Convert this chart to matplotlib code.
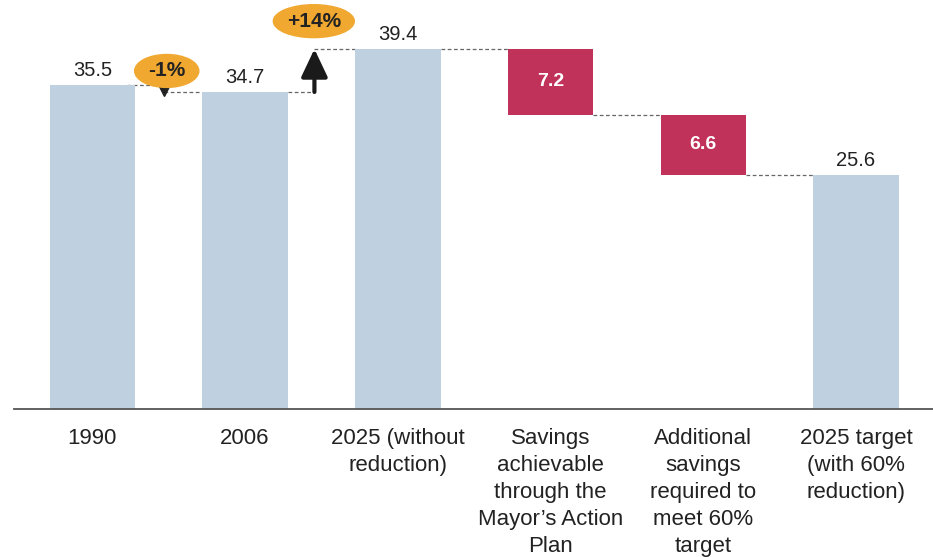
import matplotlib
matplotlib.use("Agg")
import matplotlib.pyplot as plt
from matplotlib.patches import Ellipse

plt.rcParams["font.family"] = ["Liberation Sans", "DejaVu Sans"]

# Emissions waterfall (MtCO2)
categories = [
    "1990",
    "2006",
    "2025 (without\nreduction)",
    "Savings\nachievable\nthrough the\nMayor\u2019s Action\nPlan",
    "Additional\nsavings\nrequired to\nmeet 60%\ntarget",
    "2025 target\n(with 60%\nreduction)",
]
totals = [35.5, 34.7, 39.4, None, None, 25.6]
savings = [None, None, None, 7.2, 6.6, None]
change_labels = ["-1%", "+14%"]

BLUE = "#bfd0e0"
RED = "#c0325a"
ORANGE = "#f0a830"
TEXT = "#222222"
DASH = "#666666"

fig = plt.figure(figsize=(9.33, 5.57), dpi=100)
ax = fig.add_axes([14 / 933, 148 / 557, 1 - 14 / 933, 402 / 557])

width = 0.56
half = width / 2
x = list(range(len(categories)))

# Totals (blue) and savings steps (red)
level = None
steps = []
for i in x:
    if totals[i] is not None:
        ax.bar(i, totals[i], width=width, color=BLUE, zorder=2)
        ax.annotate(f"{totals[i]:.1f}", (i, totals[i]), xytext=(0, 6.5),
                    textcoords="offset points", ha="center", va="baseline",
                    fontsize=14.5, color=TEXT)
        level = totals[i]
    else:
        top = level
        bottom = level - savings[i]
        ax.bar(i, savings[i], bottom=bottom, width=width, color=RED, zorder=2)
        ax.text(i, (top + bottom) / 2, f"{savings[i]:.1f}", ha="center",
                va="center", fontsize=14, fontweight="bold", color="white",
                zorder=3)
        level = bottom
    steps.append(level)

# Positions of the change arrows between the first three totals
arrow_x = [0.468, 1.454]

def dashed(x0, x1, y):
    ax.plot([x0, x1], [y, y], ls=(0, (3, 2)), lw=0.9, color=DASH, zorder=1)

# Connectors 1990 -> 2006 (via small drop arrow)
dashed(0 + half - 0.05, arrow_x[0], totals[0])
dashed(arrow_x[0], 1 - half, totals[1])
# 2006 -> 2025 (via rise arrow)
dashed(1 + half, arrow_x[1], totals[1])
dashed(arrow_x[1], 2 - half, totals[2])
# Remaining steps
for i in range(2, len(x) - 1):
    dashed(i + half, i + 1 - half, steps[i])

# Small drop arrow head
ax.plot(arrow_x[0], (totals[0] + totals[1]) / 2 - 0.2, marker="v",
        markersize=8, color=TEXT, zorder=4)
# Rise arrow
ax.annotate("", xy=(arrow_x[1], totals[2]), xytext=(arrow_x[1], totals[1]),
            arrowprops=dict(arrowstyle="-|>,head_length=0.95,head_width=0.45",
                            lw=3, color="#1a1a1a", shrinkA=0, shrinkB=0,
                            mutation_scale=18),
            zorder=4)

# Percentage change badges
badges = [(0.487, 37.0, 0.42, 3.6), (1.45, 42.45, 0.53, 3.6)]
for (bx, by, bw, bh), lab in zip(badges, change_labels):
    ax.add_patch(Ellipse((bx, by), bw, bh, color=ORANGE, zorder=5,
                         clip_on=False))
    ax.text(bx, by, lab, ha="center", va="center", fontsize=15,
            fontweight="bold", color=TEXT, zorder=6)

ax.set_xlim(-0.513, 5.504)
ax.set_ylim(0, 44)
ax.set_xticks(x)
ax.set_xticklabels(categories, fontsize=16, color=TEXT, linespacing=1.37,
                   va="top")
ax.tick_params(axis="x", length=0, pad=14)
ax.set_yticks([])
for s in ["top", "left", "right"]:
    ax.spines[s].set_visible(False)
ax.spines["bottom"].set_color("#555555")
ax.spines["bottom"].set_linewidth(1.3)

fig.savefig("out.png", dpi=100)
